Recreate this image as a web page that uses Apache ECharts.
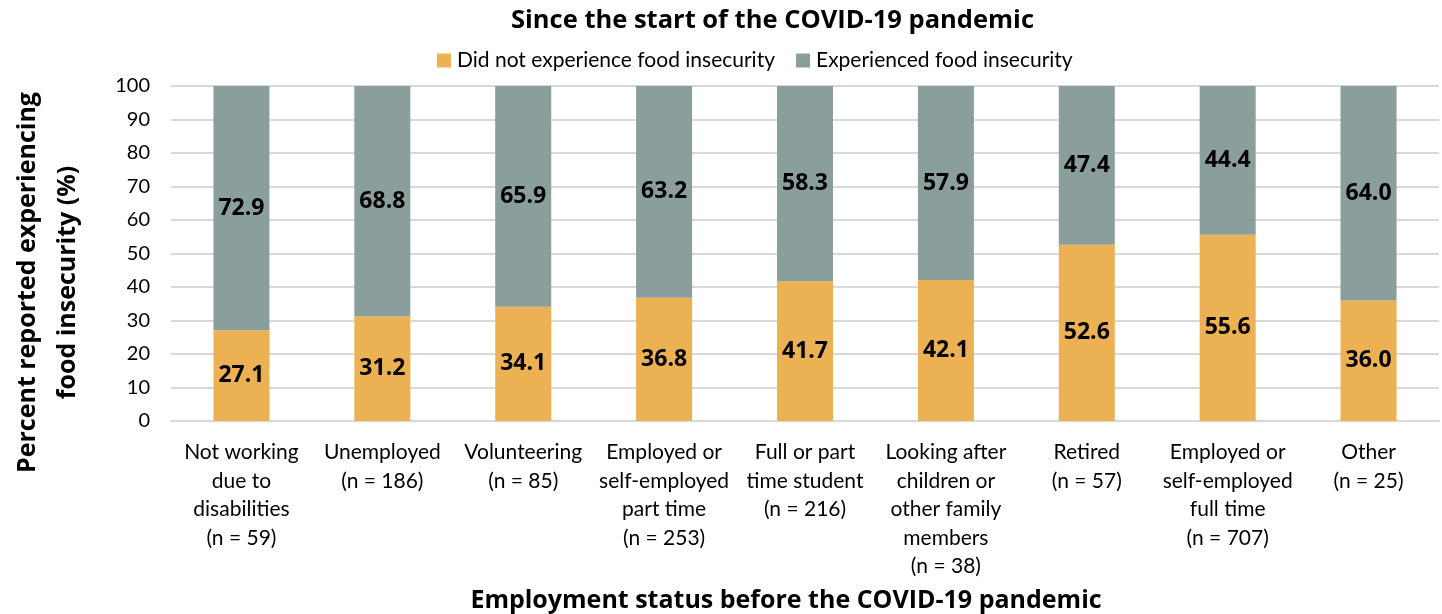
<!DOCTYPE html>
<html>
<head>
<meta charset="utf-8">
<script src="https://cdn.jsdelivr.net/npm/echarts@6/dist/echarts.min.js"></script>
<style>
  html, body { margin: 0; padding: 0; background: #fff; }
  #chart { width: 1442px; height: 614px; }
</style>
</head>
<body>
<div id="chart"></div>
<script>
// Employment status categories (multi-line labels)
const categories = [
  'Not working\ndue to\ndisabilities\n(n = 59)',
  'Unemployed\n(n = 186)',
  'Volunteering\n(n = 85)',
  'Employed or\nself-employed\npart time\n(n = 253)',
  'Full or part\ntime student\n(n = 216)',
  'Looking after\nchildren or\nother family\nmembers\n(n = 38)',
  'Retired\n(n = 57)',
  'Employed or\nself-employed\nfull time\n(n = 707)',
  'Other\n(n = 25)'
];
const notFoodInsecure = [27.1, 31.2, 34.1, 36.8, 41.7, 42.1, 52.6, 55.6, 36.0];
const foodInsecure = [72.9, 68.8, 65.9, 63.2, 58.3, 57.9, 47.4, 44.4, 64.0];
const yTicks = [0, 10, 20, 30, 40, 50, 60, 70, 80, 90, 100];

const BOLD_FONT = '"Open Sans", "Noto Sans", sans-serif';
const TEXT_FONT = 'Lato, "Noto Sans", sans-serif';
const chart = echarts.init(document.getElementById('chart'), null, { renderer: 'canvas' });

const labelStyle = {
  show: true,
  position: 'inside',
  color: '#000',
  fontFamily: BOLD_FONT,
  fontWeight: 'bold',
  fontSize: 23,
  formatter: p => p.value.toFixed(1)
};

chart.setOption({
  animation: false,
  title: {
    text: 'Since the start of the COVID-19 pandemic',
    left: 506,
    top: 3,
    textStyle: { fontFamily: BOLD_FONT, fontWeight: 'bold', fontSize: 25.5, color: '#000' }
  },
  legend: {
    top: 45,
    left: 432,
    itemWidth: 14,
    itemHeight: 14,
    itemGap: 21,
    icon: 'rect',
    textStyle: { fontFamily: TEXT_FONT, fontSize: 21, color: '#000', padding: [0, 0, 0, 1] },
    data: ['Did not experience food insecurity', 'Experienced food insecurity']
  },
  grid: { left: 171, right: 3, top: 86, bottom: 193, containLabel: false, outerBoundsMode: 'none' },
  xAxis: {
    type: 'category',
    data: categories,
    name: 'Employment status before the COVID-19 pandemic',
    nameLocation: 'middle',
    nameGap: 167,
    nameTextStyle: {
      fontFamily: BOLD_FONT, fontWeight: 'bold', fontSize: 25, color: '#000',
      padding: [0, 38, 0, 0]
    },
    axisLine: { lineStyle: { color: '#d9d9d9', width: 2 } },
    axisTick: { show: false },
    axisLabel: {
      interval: 0,
      margin: 17,
      fontFamily: TEXT_FONT,
      fontSize: 21,
      lineHeight: 28.5,
      color: '#000',
      align: 'center'
    }
  },
  yAxis: {
    type: 'value',
    min: 0,
    max: 100,
    interval: 10,
    name: 'Percent reported experiencing\nfood insecurity (%)',
    nameLocation: 'middle',
    nameGap: 83,
    nameTextStyle: {
      fontFamily: BOLD_FONT, fontWeight: 'bold', fontSize: 25, color: '#000',
      lineHeight: 40, padding: [0, 58, 0, 0]
    },
    axisLine: { show: false },
    axisTick: { show: false },
    splitLine: { lineStyle: { color: '#d9d9d9', width: 2 } },
    axisLabel: {
      margin: 21,
      fontFamily: TEXT_FONT,
      fontSize: 20,
      color: '#000',
      formatter: v => (yTicks.includes(v) ? String(v) : '')
    }
  },
  series: [
    {
      name: 'Did not experience food insecurity',
      type: 'bar',
      stack: 'total',
      barWidth: 56,
      itemStyle: { color: '#ECB152' },
      label: labelStyle,
      data: notFoodInsecure
    },
    {
      name: 'Experienced food insecurity',
      type: 'bar',
      stack: 'total',
      barWidth: 56,
      itemStyle: { color: '#8A9E9B' },
      label: labelStyle,
      data: foodInsecure
    }
  ]
});
</script>
</body>
</html>
